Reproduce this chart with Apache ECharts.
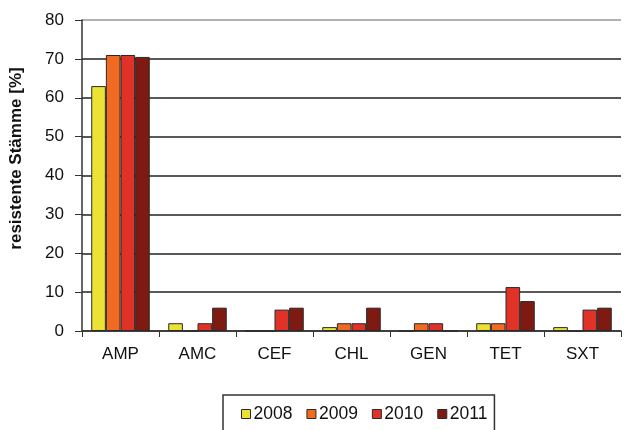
<!DOCTYPE html>
<html>
<head>
<meta charset="utf-8">
<script src="https://cdn.jsdelivr.net/npm/echarts@6/dist/echarts.min.js"></script>
<style>
  html, body { margin: 0; padding: 0; background: #fff; }
  #main { width: 635px; height: 430px; }
</style>
</head>
<body>
<div id="main"></div>
<script>
// Kategorien und Werte (resistente Stämme in %)
var categories = ['AMP', 'AMC', 'CEF', 'CHL', 'GEN', 'TET', 'SXT'];
var years = ['2008', '2009', '2010', '2011'];
var v2008 = [63, 2, 0, 1, 0, 2, 1];
var v2009 = [71, 0, 0, 2, 2, 2, 0];
var v2010 = [71, 2, 5.5, 2, 2, 11.3, 5.5];
var v2011 = [70.5, 6, 6, 6, 0, 7.7, 6];
var colors = ['#ebe234', '#f06a22', '#e03226', '#7f1a12'];

var values = [v2008, v2009, v2010, v2011];
var font = 'Liberation Sans, Arial, sans-serif';

var chart = echarts.init(document.getElementById('main'));

var series = years.map(function (y, i) {
  return {
    name: y,
    type: 'bar',
    data: values[i],
    barGap: '0%',
    barCategoryGap: '24%',
    itemStyle: { color: colors[i], borderColor: '#2a2a2a', borderWidth: 1 }
  };
});

chart.setOption({
  animation: false,
  grid: { left: 81, right: 14, top: 20, bottom: 99 },
  legend: {
    data: years,
    top: 395,
    left: 223,
    icon: 'rect',
    itemWidth: 9,
    itemHeight: 9,
    itemGap: 14,
    padding: [10, 7, 30, 18],
    borderColor: '#333',
    borderWidth: 1.5,
    textStyle: { fontFamily: font, fontSize: 17.5, color: '#111', padding: [0, 0, 0, -2] },
    itemStyle: { borderColor: '#2a2a2a', borderWidth: 1 }
  },
  xAxis: {
    type: 'category',
    data: categories,
    axisLine: { lineStyle: { color: '#333', width: 1.5 } },
    axisTick: { show: true, length: 6, lineStyle: { color: '#333' } },
    axisLabel: { fontFamily: font, fontSize: 17, color: '#111', margin: 15 }
  },
  yAxis: {
    type: 'value',
    min: 0,
    max: 80,
    interval: 10,
    name: 'resistente Stämme [%]',
    nameLocation: 'middle',
    nameGap: 57,
    nameTextStyle: {
      fontFamily: font, fontSize: 17, fontWeight: 'bold', color: '#111',
      padding: [0, 0, 0, 34]
    },
    axisLine: { show: true, lineStyle: { color: '#333', width: 1.5 } },
    axisTick: { show: true, length: 7, lineStyle: { color: '#333' } },
    axisLabel: { fontFamily: font, fontSize: 17, color: '#111', margin: 18 },
    splitLine: {
      show: true,
      lineStyle: {
        color: ['#333', '#222', '#222', '#222', '#222', '#222', '#222', '#222', '#999'],
        width: 1.5
      }
    }
  },
  series: series
});
</script>
</body>
</html>
